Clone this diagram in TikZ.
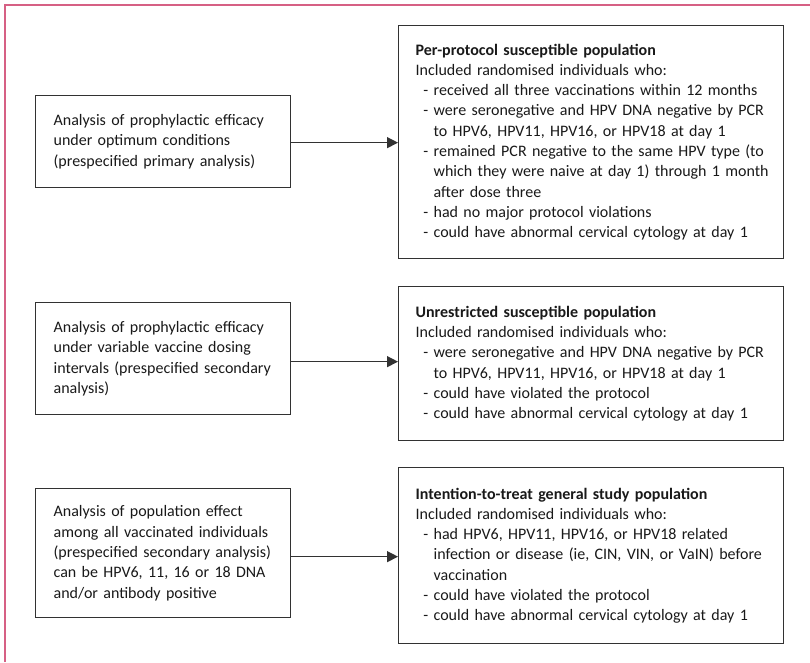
\documentclass[tikz,border=0pt]{standalone}
\usepackage{fontspec}
\setmainfont{Carlito}
\usetikzlibrary{arrows.meta}
\definecolor{pinkframe}{RGB}{214,96,132}
\definecolor{boxline}{RGB}{50,50,50}
\definecolor{txt}{RGB}{25,25,25}
\newcommand{\itm}[1]{{\leftskip=18pt\noindent\llap{-\ }#1\par}}
\hfuzz=40pt
\tikzset{
  lbox/.style={draw=boxline, line width=1.3pt, anchor=north west, minimum width=255pt,
    text width=219pt, inner xsep=18pt, inner ysep=0pt, align=left, text=txt,
    font=\fontsize{16}{20.3}\selectfont},
  rbox/.style={draw=boxline, line width=1.3pt, anchor=north west, minimum width=385pt,
    text width=351pt, inner xsep=17pt, inner ysep=0pt, align=left, text=txt,
    font=\fontsize{16}{20.3}\selectfont},
  arr/.style={draw=boxline, line width=1.3pt, -{Triangle[length=11pt,width=11pt]}}
}
\begin{document}
\begin{tikzpicture}[x=1pt,y=-1pt]
\useasboundingbox (0,0) rectangle (810,662);
\draw[pinkframe, line width=1.6pt] (5,662) -- (5,5) -- (810,5);

\node[lbox, minimum height=92pt] (l1) at (35,95)
  {Analysis of prophylactic efficacy\\under optimum conditions\\(prespecified primary analysis)};
\node[lbox, minimum height=112pt] (l2) at (35,302)
  {Analysis of prophylactic efficacy\\under variable vaccine dosing\\intervals (prespecified secondary\\analysis)};
\node[lbox, minimum height=129pt] (l3) at (35,488)
  {Analysis of population effect\\among all vaccinated individuals\\(prespecified secondary analysis)\\can be HPV6, 11, 16 or 18 DNA\\and/or antibody positive};

\node[rbox, minimum height=233pt] (r1) at (398,25) {%
  \noindent\textbf{Per-protocol susceptible population}\par
  \noindent Included randomised individuals who:\par
  \itm{received all three vaccinations within 12 months}
  \itm{\mbox{were seronegative and HPV DNA negative by PCR}\\\mbox{to HPV6, HPV11, HPV16, or HPV18 at day 1}}
  \itm{\mbox{remained PCR negative to the same HPV type (to}\\\mbox{which they were naive at day 1) through 1 month}\\\mbox{after dose three}}
  \itm{had no major protocol violations}
  \itm{could have abnormal cervical cytology at day 1}};

\node[rbox, minimum height=154pt] (r2) at (398,286) {%
  \noindent\textbf{Unrestricted susceptible population}\par
  \noindent Included randomised individuals who:\par
  \itm{\mbox{were seronegative and HPV DNA negative by PCR}\\\mbox{to HPV6, HPV11, HPV16, or HPV18 at day 1}}
  \itm{could have violated the protocol}
  \itm{could have abnormal cervical cytology at day 1}};

\node[rbox, minimum height=176pt] (r3) at (398,467) {%
  \noindent\textbf{Intention-to-treat general study population}\par
  \noindent Included randomised individuals who:\par
  \itm{\mbox{had HPV6, HPV11, HPV16, or HPV18 related}\\\mbox{infection or disease (ie, CIN, VIN, or VaIN) before}\\\mbox{vaccination}}
  \itm{could have violated the protocol}
  \itm{could have abnormal cervical cytology at day 1}};

\draw[arr] ([yshift=-1pt]l1.east) -- ([yshift=-1pt]l1.east -| r1.west);
\draw[arr] ([yshift=-3pt]l2.east) -- ([yshift=-3pt]l2.east -| r2.west);
\draw[arr] ([yshift=-3.5pt]l3.east) -- ([yshift=-3.5pt]l3.east -| r3.west);
\end{tikzpicture}
\end{document}
